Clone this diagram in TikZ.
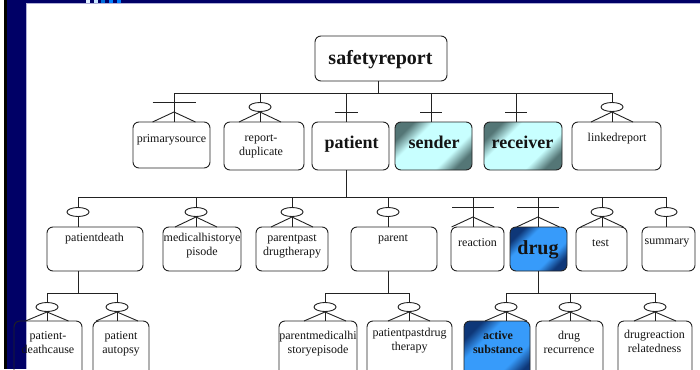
\documentclass[tikz,border=0pt]{standalone}
\usepackage{fontspec}
\setmainfont{Liberation Serif}
\usetikzlibrary{shapes.geometric}
\definecolor{navy}{RGB}{0,0,102}
\definecolor{edgeline}{RGB}{176,176,216}
\definecolor{linec}{RGB}{34,34,34}
\definecolor{txt}{RGB}{20,20,20}
\definecolor{tlight}{RGB}{200,255,255}
\definecolor{tdark}{RGB}{84,118,118}
\definecolor{blight}{RGB}{55,155,250}
\definecolor{bdark}{RGB}{14,55,120}
\definecolor{sqA}{RGB}{225,240,255}
\definecolor{sqB}{RGB}{200,230,255}
\definecolor{sqC}{RGB}{0,110,220}
\definecolor{sqD}{RGB}{0,128,255}
\pgfdeclarehorizontalshading{tealsh}{100bp}{color(0bp)=(tdark); color(25bp)=(tdark); color(36bp)=(tlight); color(64bp)=(tlight); color(75bp)=(tdark); color(100bp)=(tdark)}
\pgfdeclarehorizontalshading{bluesh}{100bp}{color(0bp)=(bdark); color(25bp)=(bdark); color(36bp)=(blight); color(64bp)=(blight); color(75bp)=(bdark); color(100bp)=(bdark)}
\newcommand\barmk[3]{\draw[lnk] (#1-#3,#2) -- (#1+#3,#2);}
\newcommand\crowmk[4]{\draw[lnk] (#1-#4,#3) -- (#1,#2) -- (#1+#4,#3);}
\tikzset{
  ebox/.style={draw=linec, line width=0.9pt, rounded corners=6pt, inner sep=0pt},
  tealbox/.style={ebox, shading=tealsh, shading angle=-45},
  bluebox/.style={ebox, shading=bluesh, shading angle=-45},
  ring/.style={draw=linec, fill=white, ellipse, minimum width=22pt, minimum height=9pt, inner sep=0pt, line width=0.9pt},
  lnk/.style={draw=linec, line width=0.9pt},
  lbl/.style={font=\fontsize{12}{14}\selectfont, align=center, text=txt, inner sep=0pt, anchor=base},
  lblb/.style={lbl, font=\fontsize{12}{14}\selectfont\bfseries},
  midb/.style={lbl, font=\fontsize{18}{20}\selectfont\bfseries},
  bigb/.style={lbl, font=\fontsize{20}{22}\selectfont\bfseries},
}
\begin{document}
\begin{tikzpicture}[x=1pt,y=-1pt]
\clip (0,0) rectangle (700,369);
% background frame
\fill[white] (0,0) rectangle (700,369);
\fill[black] (3.5,0) rectangle (7,369);
\fill[navy] (7,0) rectangle (26,369);
\fill[navy] (7,0) rectangle (700,3);
\fill[edgeline] (26,3) rectangle (700,4);
\fill[edgeline] (26,3) rectangle (27,369);
\fill[sqA] (86,0) rectangle (90,3.5);
\fill[sqB] (94,0) rectangle (98,3.5);
\fill[sqC] (101,0) rectangle (105,3.5);
\fill[sqD] (109,0) rectangle (113,3.5);
\fill[sqD] (117,0) rectangle (121,3.5);

% ---------- boxes ----------
\node[ebox, minimum width=132pt, minimum height=45pt] (sr) at (381,58.5) {};
% row 1
\node[ebox, minimum width=77pt, minimum height=46pt] (ps) at (171.5,145) {};
\node[ebox, minimum width=80pt, minimum height=48pt] (rd) at (264,146) {};
\node[ebox, minimum width=77pt, minimum height=48pt] (pat) at (350.5,146) {};
\node[tealbox, minimum width=77pt, minimum height=48pt] (snd) at (433.5,146) {};
\node[tealbox, minimum width=78pt, minimum height=48pt] (rcv) at (523,146) {};
\node[ebox, minimum width=89pt, minimum height=48pt] (lr) at (616.5,146) {};
% row 2
\node[ebox, minimum width=96pt, minimum height=44pt] (pd) at (95,249) {};
\node[ebox, minimum width=78pt, minimum height=44pt] (mh) at (202,249) {};
\node[ebox, minimum width=72pt, minimum height=44pt] (ppd) at (292,249) {};
\node[ebox, minimum width=86pt, minimum height=44pt] (par) at (394,249) {};
\node[ebox, minimum width=53pt, minimum height=44pt] (rea) at (477.5,249) {};
\node[bluebox, minimum width=57pt, minimum height=44pt] (drg) at (538.5,249) {};
\node[ebox, minimum width=51pt, minimum height=44pt] (tst) at (601.5,249) {};
\node[ebox, minimum width=53pt, minimum height=44pt] (sum) at (668.5,249) {};
% row 3
\node[ebox, minimum width=68pt, minimum height=60pt] (pdc) at (48,351) {};
\node[ebox, minimum width=56pt, minimum height=60pt] (pau) at (121,351) {};
\node[ebox, minimum width=78pt, minimum height=60pt] (pmh) at (318,351) {};
\node[ebox, minimum width=85pt, minimum height=60pt] (ppdt) at (409.5,351) {};
\node[bluebox, minimum width=66pt, minimum height=60pt] (as) at (497,351) {};
\node[ebox, minimum width=67pt, minimum height=60pt] (dr) at (569.5,351) {};
\node[ebox, minimum width=74pt, minimum height=60pt] (drr) at (655,351) {};

% ---------- labels (anchor = baseline of last line) ----------
\node[bigb] (t-sr) at (380.5,64.3) {safetyreport};
\node[lbl] (t-ps) at (171.5,142.5) {primarysource};
\node[lbl] (t-rd) at (261,155.7) {report-\\duplicate};
\node[midb] (t-pat) at (351.5,148.3) {patient};
\node[midb] (t-snd) at (434,148.3) {sender};
\node[midb] (t-rcv) at (522.5,148.3) {receiver};
\node[lbl] (t-lr) at (617,141.7) {linkedreport};
\node[lbl] (t-pd) at (94.5,241) {patientdeath};
\node[lbl] (t-mh) at (202,255) {medicalhistorye\\pisode};
\node[lbl] (t-ppd) at (292,255) {parentpast\\drugtherapy};
\node[lbl] (t-par) at (393,241) {parent};
\node[lbl] (t-rea) at (477.5,246) {reaction};
\node[bigb] (t-drg) at (538,254) {drug};
\node[lbl] (t-tst) at (600.5,246) {test};
\node[lbl] (t-sum) at (667,244) {summary};
\node[lbl] (t-pdc) at (48,353.3) {patient-\\deathcause};
\node[lbl] (t-pau) at (121,353) {patient\\autopsy};
\node[lbl] (t-pmh) at (318,353) {parentmedicalhi\\storyepisode};
\node[lbl] (t-ppdt) at (409.5,350.7) {patientpastdrug\\therapy};
\node[lblb] (t-as) at (498,353.3) {active\\substance};
\node[lbl] (t-dr) at (569,353) {drug\\recurrence};
\node[lbl] (t-drr) at (654.5,352.7) {drugreaction\\relatedness};

% ---------- connectors: level 1 ----------
\coordinate (j-sr) at (378,93);
\coordinate (a-ps) at (174,93);
\coordinate (a-rd) at (260,93);
\coordinate (a-pat) at (346,93);
\coordinate (a-snd) at (431,93);
\coordinate (a-rcv) at (516,93);
\coordinate (a-lr) at (612,93);
\draw[lnk] (sr.south -| j-sr) -- (j-sr);
\draw[lnk] (a-ps) -- (a-lr);
\foreach \c in {ps,rd,pat,snd,rcv,lr}{\draw[lnk] (a-\c) -- (a-\c |- \c.north);}
\barmk{174}{102}{21.5}
\crowmk{174}{112}{122}{21.5}
\crowmk{260}{112}{122}{21}
\barmk{346}{112}{11.5}
\barmk{431}{112}{11}
\barmk{516}{112}{11}
\crowmk{612}{112}{122}{21}
\node[ring] (o-rd) at (260,107) {};
\node[ring] (o-lr) at (612,107) {};

% ---------- connectors: level 2 ----------
\coordinate (j-pat) at (346,197);
\coordinate (a-pd) at (78,197);
\coordinate (a-mh) at (196,197);
\coordinate (a-ppd) at (292,197);
\coordinate (a-par) at (388,197);
\coordinate (a-rea) at (473,197);
\coordinate (a-drg) at (538,197);
\coordinate (a-tst) at (602,197);
\coordinate (a-sum) at (666,197);
\draw[lnk] (pat.south -| j-pat) -- (j-pat);
\draw[lnk] (a-pd) -- (a-sum);
\foreach \c in {pd,mh,ppd,par,rea,drg,tst,sum}{\draw[lnk] (a-\c) -- (a-\c |- \c.north);}
\crowmk{196}{217}{227}{21}
\crowmk{292}{217}{227}{21}
\barmk{473}{207}{21}
\crowmk{473}{217}{227}{21.5}
\barmk{538}{207}{21}
\crowmk{538}{217}{227}{21.5}
\crowmk{602}{217}{227}{21.5}
\node[ring] (o-pd) at (78,212) {};
\node[ring] (o-mh) at (196,212) {};
\node[ring] (o-ppd) at (292,212) {};
\node[ring] (o-par) at (388,212) {};
\node[ring] (o-tst) at (602,212) {};
\node[ring] (o-sum) at (666,212) {};

% ---------- connectors: level 3 ----------
\coordinate (j-pd) at (78,293);
\coordinate (a-pdc) at (47,293);
\coordinate (a-pau) at (117,293);
\draw[lnk] (pd.south -| j-pd) -- (j-pd);
\draw[lnk] (a-pdc) -- (a-pau);
\coordinate (j-par) at (388,293);
\coordinate (a-pmh) at (325,293);
\coordinate (a-ppdt) at (409,293);
\draw[lnk] (par.south -| j-par) -- (j-par);
\draw[lnk] (a-pmh) -- (a-ppdt);
\coordinate (j-drg) at (538,293);
\coordinate (a-as) at (506,293);
\coordinate (a-dr) at (570,293);
\coordinate (a-drr) at (655,293);
\draw[lnk] (drg.south -| j-drg) -- (j-drg);
\draw[lnk] (a-as) -- (a-drr);
\foreach \c in {pdc,pau,pmh,ppdt,as,dr,drr}{\draw[lnk] (a-\c) -- (a-\c |- \c.north);}
\crowmk{47}{312}{321}{21.5}
\crowmk{117}{312}{321}{21}
\crowmk{325}{312}{321}{21}
\crowmk{409}{312}{321}{21}
\crowmk{506}{312}{321}{21}
\crowmk{570}{312}{321}{21}
\crowmk{655}{312}{321}{21}
\node[ring] (o-pdc) at (47,307) {};
\node[ring] (o-pau) at (117,307) {};
\node[ring] (o-pmh) at (325,307) {};
\node[ring] (o-ppdt) at (409,307) {};
\node[ring] (o-as) at (506,307) {};
\node[ring] (o-dr) at (570,307) {};
\node[ring] (o-drr) at (655,307) {};
\end{tikzpicture}
\end{document}
